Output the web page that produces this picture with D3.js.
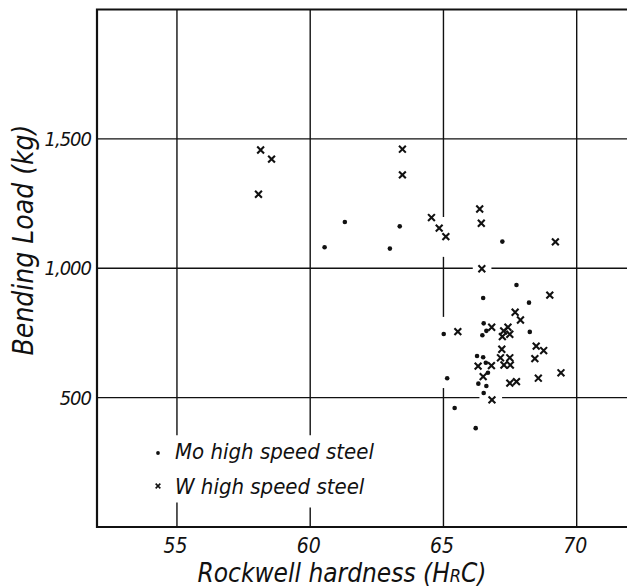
<!DOCTYPE html>
<html>
<head>
<meta charset="utf-8">
<script src="https://cdn.jsdelivr.net/npm/d3@7"></script>
<style>
  body { margin: 0; background: #fff; }
  text { font-family: "DejaVu Sans Condensed", "Liberation Sans Narrow", sans-serif; font-style: italic; fill: #111; }
</style>
</head>
<body>
<div id="chart"></div>
<script>
// Mo high speed steel  [hardness HRC, load kg]
const moPoints = [
  [61.3, 1179], [63.36, 1162], [60.54, 1081], [62.99, 1076], [67.21, 1103],
  [67.74, 935], [66.49, 885], [68.21, 867], [66.51, 787], [66.61, 758],
  [66.46, 741], [65.01, 746], [68.24, 754], [66.26, 661], [66.49, 656],
  [66.59, 635], [65.14, 575], [66.67, 596], [66.31, 554], [66.61, 545],
  [66.51, 518], [65.42, 460], [66.21, 382]
];
// W high speed steel
const wPoints = [
  [58.14, 1457], [58.55, 1422], [58.06, 1286], [63.46, 1460], [63.46, 1361],
  [64.55, 1196], [64.84, 1155], [65.09, 1122], [66.36, 1229], [66.42, 1174],
  [69.2, 1102], [66.44, 998], [68.99, 896], [67.69, 830], [67.89, 800],
  [66.81, 772], [65.54, 755], [67.42, 772], [67.26, 758], [67.49, 745],
  [67.21, 736], [67.19, 687], [68.48, 699], [68.76, 682], [67.14, 654],
  [67.49, 654], [68.43, 651], [66.3, 622], [66.8, 624], [67.27, 626],
  [67.51, 626], [66.49, 581], [67.49, 556], [67.74, 562], [68.56, 575],
  [69.41, 596], [66.82, 491]
];

const xTicks = [55, 60, 65, 70];
const yTicks = [500, 1000, 1500];
// breaks in the hand drawn grid: [x, yFrom, yTo] and [y, xFrom, xTo]
const xGridGaps = [[55, 95, 355], [60, 75, 355], [65, 1044, 1198], [65, 537, 812]];
const yGridGaps = [[1000, 66.1, 66.8], [500, 66.35, 67.2]];

const legendItems = ["Mo high speed steel", "W high speed steel"];

const width = 627, height = 588;

const svg = d3.select("#chart")
  .append("svg")
  .attr("width", width)
  .attr("height", height);

svg.append("rect").attr("width", width).attr("height", height).attr("fill", "#fff");

const xScale = d3.scaleLinear().domain([52, 72]).range([97, 630]);
const yScale = d3.scaleLinear().domain([0, 2000]).range([527, 9.5]);

// split a line into pieces around its gaps
function segments(from, to, gaps) {
  const out = [];
  let start = from;
  gaps.slice().sort((a, b) => a[0] - b[0]).forEach(g => {
    out.push([start, g[0]]);
    start = g[1];
  });
  out.push([start, to]);
  return out;
}

const grid = svg.append("g").attr("stroke", "#111").attr("stroke-width", 1.4);

xTicks.forEach(t => {
  const gaps = xGridGaps.filter(g => g[0] == t).map(g => [g[1], g[2]]);
  segments(0, 2000, gaps).forEach(s => {
    grid.append("line")
      .attr("x1", xScale(t)).attr("x2", xScale(t))
      .attr("y1", yScale(s[0])).attr("y2", yScale(s[1]));
  });
});

yTicks.forEach(t => {
  const gaps = yGridGaps.filter(g => g[0] == t).map(g => [g[1], g[2]]);
  segments(52, 72, gaps).forEach(s => {
    grid.append("line")
      .attr("x1", xScale(s[0])).attr("x2", xScale(s[1]))
      .attr("y1", yScale(t)).attr("y2", yScale(t));
  });
});

// frame
svg.append("path")
  .attr("d", `M${xScale(72)},${yScale(2000)}H${xScale(52)}V${yScale(0)}H${xScale(72)}`)
  .attr("fill", "none")
  .attr("stroke", "#111")
  .attr("stroke-width", 2.2);

const xAxis = d3.axisBottom(xScale).tickValues(xTicks).tickSize(0).tickPadding(11);
const yAxis = d3.axisLeft(yScale).tickValues(yTicks).tickSize(0).tickPadding(6).tickFormat(d3.format(","));

svg.append("g")
  .attr("transform", `translate(0, ${yScale(0)})`)
  .call(xAxis)
  .call(g => g.select(".domain").remove())
  .selectAll("text")
  .attr("font-family", null)
  .style("font-style", "italic")
  .attr("font-size", 21)
  .attr("dx", "-2");

svg.append("g")
  .attr("transform", `translate(${xScale(52)}, 0)`)
  .call(yAxis)
  .call(g => g.select(".domain").remove())
  .selectAll("text")
  .attr("font-family", null)
  .style("font-style", "italic")
  .attr("font-size", 20)
  .attr("letter-spacing", "-1");

// points
svg.selectAll(".mo")
  .data(moPoints)
  .enter()
  .append("circle")
  .attr("class", "mo")
  .attr("cx", d => xScale(d[0]))
  .attr("cy", d => yScale(d[1]))
  .attr("r", 2.3)
  .attr("fill", "#111");

const cross = d3.symbol().type(d3.symbolTimes).size(32);

svg.selectAll(".w")
  .data(wPoints)
  .enter()
  .append("path")
  .attr("class", "w")
  .attr("d", cross)
  .attr("transform", d => `translate(${xScale(d[0])}, ${yScale(d[1])})`)
  .attr("fill", "none")
  .attr("stroke", "#111")
  .attr("stroke-width", 2.1);

// legend
const legend = svg.append("g").attr("transform", "translate(158, 453)");

legend.append("circle").attr("cx", 0).attr("cy", 0).attr("r", 1.9).attr("fill", "#111");
legend.append("path")
  .attr("d", d3.symbol().type(d3.symbolTimes).size(16))
  .attr("transform", "translate(0, 33)")
  .attr("fill", "none")
  .attr("stroke", "#111")
  .attr("stroke-width", 1.6);

legend.selectAll(".label")
  .data(legendItems)
  .enter()
  .append("text")
  .attr("x", 17)
  .attr("y", (d, i) => 6 + i * 35)
  .attr("font-size", 22)
  .text(d => d);

// axis titles
const xTitle = svg.append("text")
  .attr("x", 342)
  .attr("y", 582)
  .attr("text-anchor", "middle")
  .attr("font-size", 26);
xTitle.append("tspan").text("Rockwell hardness (H");
xTitle.append("tspan").attr("font-size", 18).text("R");
xTitle.append("tspan").text("C)");

svg.append("text")
  .attr("transform", "translate(33, 240) rotate(-90)")
  .attr("text-anchor", "middle")
  .attr("font-size", 28)
  .text("Bending Load (kg)");
</script>
</body>
</html>
